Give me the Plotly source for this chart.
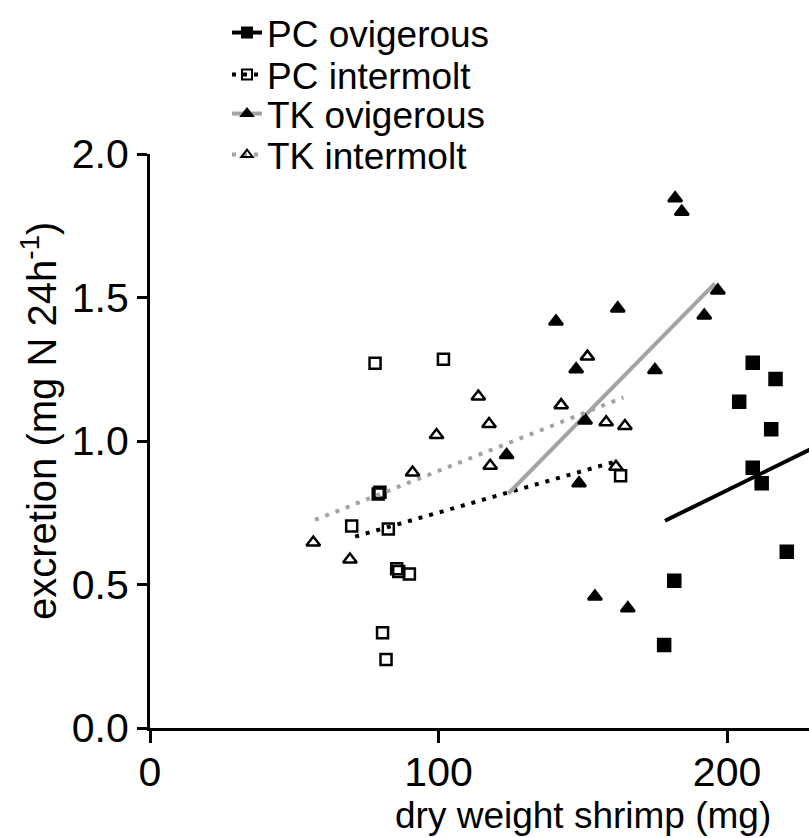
import plotly.graph_objects as go

# ---- data ----
pc_ovig_x = [178.2, 181.7, 204.2, 208.9, 208.9, 212.0, 215.3, 216.8, 220.7]
pc_ovig_y = [0.289, 0.513, 1.137, 1.273, 0.907, 0.853, 1.041, 1.216, 0.614]
pc_ovig_fit_x = [178.5, 240.0]
pc_ovig_fit_y = [0.722, 1.026]

pc_inter_x = [78.0, 101.7, 79.7, 79.1, 69.9, 82.6, 85.5, 86.2, 89.9, 80.6, 81.8, 163.1]
pc_inter_y = [1.271, 1.285, 0.821, 0.815, 0.704, 0.693, 0.555, 0.545, 0.537, 0.332, 0.239, 0.879]
pc_inter_fit_x = [71.1, 161.2]
pc_inter_fit_y = [0.667, 0.928]

tk_ovig_x = [123.6, 140.7, 147.7, 148.7, 150.8, 154.2, 162.1, 165.6, 175.0, 182.0, 184.3, 192.1, 196.8]
tk_ovig_y = [0.951, 1.416, 1.250, 0.853, 1.071, 0.458, 1.462, 0.417, 1.247, 1.846, 1.799, 1.437, 1.524]
tk_ovig_fit_x = [124.2, 195.8]
tk_ovig_fit_y = [0.817, 1.549]

tk_inter_x = [56.6, 69.3, 91.0, 99.3, 113.8, 117.5, 117.9, 142.5, 151.6, 158.1, 164.6, 161.5]
tk_inter_y = [0.646, 0.587, 0.890, 1.021, 1.155, 1.059, 0.914, 1.125, 1.294, 1.065, 1.052, 0.910]
tk_inter_fit_x = [57.2, 164.1]
tk_inter_fit_y = [0.725, 1.152]

names = ["PC ovigerous", "PC intermolt", "TK ovigerous", "TK intermolt"]
x_ticks = [0, 100, 200]
y_ticks = [0.0, 0.5, 1.0, 1.5, 2.0]
y_tick_text = ["0.0", "0.5", "1.0", "1.5", "2.0"]

FONT = "Liberation Sans, Arial, sans-serif"
GRAY = "#a3a3a3"
DOT = "4px,7px"

series = [
    dict(x=pc_ovig_x, y=pc_ovig_y, fx=pc_ovig_fit_x, fy=pc_ovig_fit_y,
         symbol="square", msize=12, lc="black", dash="solid"),
    dict(x=pc_inter_x, y=pc_inter_y, fx=pc_inter_fit_x, fy=pc_inter_fit_y,
         symbol="square-open", msize=11, lc="black", dash=DOT),
    dict(x=tk_ovig_x, y=tk_ovig_y, fx=tk_ovig_fit_x, fy=tk_ovig_fit_y,
         symbol="triangle-up", msize=12, lc=GRAY, dash="solid"),
    dict(x=tk_inter_x, y=tk_inter_y, fx=tk_inter_fit_x, fy=tk_inter_fit_y,
         symbol="triangle-up-open", msize=12, lc=GRAY, dash=DOT),
]

W, H = 809, 838
ML, MR, MT, MB = 150, 0, 154, 110
PW, PH = W - ML - MR, H - MT - MB
legend_centers = [33, 75, 114, 155]
legend_left = 227

fig = go.Figure()
layout_legends = {}
for i, (s, name) in enumerate(zip(series, names)):
    marker = dict(symbol=s["symbol"], size=s["msize"], color="black",
                  line=dict(color="black", width=2.5))
    fig.add_trace(go.Scatter(x=s["fx"], y=s["fy"], mode="lines",
                             line=dict(color=s["lc"], width=4, dash=s["dash"]),
                             showlegend=False, hoverinfo="skip"))
    fig.add_trace(go.Scatter(x=s["x"], y=s["y"], mode="markers", marker=marker,
                             showlegend=False, name=name))
    lg = "legend" if i == 0 else f"legend{i+1}"
    fig.add_trace(go.Scatter(x=[None], y=[None], mode="lines+markers", name=name,
                             marker=dict(symbol=s["symbol"], size=10, color="black",
                                         line=dict(color="black", width=2)),
                             line=dict(color=s["lc"], width=4, dash=s["dash"]),
                             legend=lg, showlegend=True))
    layout_legends[lg] = dict(
        x=legend_left / W, y=1 - legend_centers[i] / H,
        xref="container", yref="container",
        xanchor="left", yanchor="middle",
        font=dict(family=FONT, size=37, color="black"),
        bgcolor="rgba(0,0,0,0)", borderwidth=0, itemwidth=30,
        tracegroupgap=0,
    )

fig.update_layout(
    width=W, height=H,
    margin=dict(l=ML, r=MR, t=MT, b=MB, autoexpand=False),
    plot_bgcolor="white", paper_bgcolor="white",
    font=dict(family=FONT, color="black"),
    **layout_legends,
)

fig.update_xaxes(
    range=[0, 228.4], tickvals=x_ticks, ticktext=[str(v) for v in x_ticks],
    showline=True, linecolor="black", linewidth=3,
    ticks="outside", ticklen=12, tickwidth=3, tickcolor="black",
    ticklabelstandoff=-6,
    showgrid=False, zeroline=False, automargin=False,
    tickfont=dict(family=FONT, size=41, color="black"),
)
fig.update_yaxes(
    range=[0, 2.0], tickvals=y_ticks, ticktext=y_tick_text,
    showline=True, linecolor="black", linewidth=3,
    ticks="outside", ticklen=10, tickwidth=3, tickcolor="black",
    showgrid=False, zeroline=False, automargin=False,
    tickfont=dict(family=FONT, size=41, color="black"),
)

fig.add_annotation(text="dry weight shrimp (mg)", x=150, xref="x",
                   y=(H - MB - 815) / PH, yref="paper", yanchor="middle",
                   xanchor="center", showarrow=False,
                   font=dict(family=FONT, size=37, color="black"))
fig.add_annotation(text="excretion (mg N 24h<sup>-1</sup>)", textangle=-90,
                   x=(39 - ML) / PW, xref="paper", y=(H - MB - 421) / PH, yref="paper",
                   xanchor="center", yanchor="middle", showarrow=False,
                   font=dict(family=FONT, size=40, color="black"))

fig.write_html("out.html")
